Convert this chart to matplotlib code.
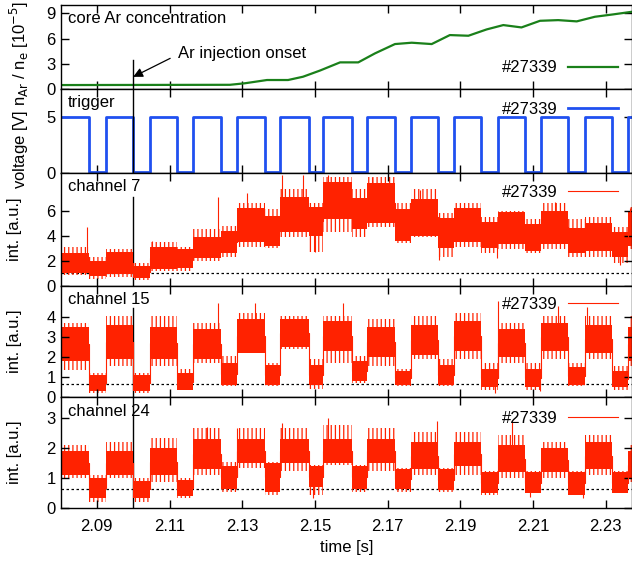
import numpy as np
import matplotlib
matplotlib.use("Agg")
import matplotlib.pyplot as plt

plt.rcParams['font.family'] = ['Liberation Sans', 'DejaVu Sans']
plt.rcParams['font.size'] = 12
plt.rcParams['hatch.linewidth'] = 0.9

# core Ar concentration (n_Ar / n_e in 1e-5)
ar_time = [2.080, 2.1266, 2.1307, 2.1368, 2.1426, 2.1467, 2.1514, 2.1569, 2.1619,
           2.1665, 2.1720, 2.1766, 2.1821, 2.1871, 2.1922, 2.1972, 2.2018, 2.2068,
           2.2119, 2.2169, 2.2220, 2.2270, 2.2320, 2.2371]
ar_conc = [0.47, 0.50, 0.68, 1.07, 1.07, 1.46, 2.20, 3.17, 3.17, 4.24, 5.35, 5.51,
           5.35, 6.42, 6.34, 7.09, 7.61, 7.33, 8.12, 8.20, 8.05, 8.60, 8.88, 9.19]

# trigger edges [s]
trig_rise = [2.0925, 2.1046, 2.1165, 2.1285, 2.1404, 2.1523, 2.1642, 2.1763,
             2.1883, 2.2004, 2.2123, 2.2244, 2.2362]
trig_fall = [2.0879, 2.1000, 2.1121, 2.1242, 2.1362, 2.1483, 2.1601, 2.1720,
             2.1839, 2.1958, 2.2078, 2.2197, 2.2316]

t_start, t_end = 2.080, 2.2372
onset = 2.10

# signal per trigger half-period (first one: trigger high)
# dense core of the noisy trace (lo / hi) and its outer extent (min / max)
ch7_lo = [1.0, 0.8, 0.9, 0.6, 1.3, 1.4, 2.2, 2.6, 3.5, 3.2, 4.3, 4.0, 5.3, 4.5,
          5.0, 3.6, 4.0, 3.0, 3.5, 3.0, 3.3, 2.8, 3.3, 2.6, 2.8, 2.3, 3.2]
ch7_hi = [2.6, 2.0, 2.7, 1.6, 3.1, 2.9, 3.9, 4.4, 6.2, 5.6, 7.1, 6.3, 8.3, 7.0,
          8.2, 6.1, 6.9, 5.4, 6.2, 5.1, 5.9, 4.9, 6.0, 4.6, 5.0, 4.3, 6.0]
ch7_min = [0.85, 0.5, 0.7, 0.45, 1.2, 1.2, 2.0, 2.3, 3.1, 3.0, 3.9, 2.7, 4.3, 3.9,
           4.7, 3.4, 3.9, 2.3, 3.1, 2.6, 2.9, 2.6, 2.9, 2.3, 2.3, 1.8, 2.9]
ch7_max = [3.1, 2.3, 2.9, 1.8, 3.5, 3.1, 4.5, 4.8, 6.6, 6.1, 7.7, 6.6, 8.7, 7.7,
           8.7, 6.6, 7.7, 5.8, 6.6, 5.5, 6.0, 5.3, 6.6, 5.3, 5.5, 4.7, 6.3]

ch15_lo = [1.8, 0.3, 1.9, 0.3, 1.9, 0.35, 1.9, 0.6, 2.2, 0.6, 2.5, 0.6, 2.3, 0.8,
           2.0, 0.6, 2.1, 0.6, 2.3, 0.5, 2.0, 0.5, 2.3, 0.6, 2.2, 0.5, 1.8]
ch15_hi = [3.5, 1.1, 3.6, 1.1, 3.5, 1.2, 3.4, 1.7, 3.9, 1.6, 3.9, 1.6, 3.8, 1.8,
           3.5, 1.3, 3.6, 1.6, 3.8, 1.4, 3.4, 1.4, 3.7, 1.5, 3.6, 1.3, 3.5]
ch15_min = [1.38, 0.2, 1.55, 0.2, 1.55, 0.38, 1.7, 0.55, 2.2, 0.55, 2.4, 0.4, 1.7, 0.7,
            1.55, 0.55, 1.9, 0.55, 1.9, 0.38, 1.7, 0.38, 1.9, 0.55, 1.9, 0.38, 1.55]
ch15_max = [3.72, 1.2, 4.05, 1.2, 4.05, 1.4, 3.7, 2.05, 4.2, 1.7, 4.05, 1.9, 4.05, 2.05,
            3.9, 1.4, 4.05, 1.9, 4.2, 1.7, 3.7, 1.7, 4.05, 1.7, 4.05, 1.55, 4.05]

ch24_lo = [1.1, 0.35, 1.1, 0.35, 1.1, 0.4, 1.3, 0.65, 1.5, 0.55, 1.5, 0.7, 1.5, 0.65,
           1.5, 0.65, 1.3, 0.6, 1.4, 0.5, 1.2, 0.5, 1.2, 0.45, 1.3, 0.5, 1.0]
ch24_hi = [1.9, 1.0, 1.9, 0.9, 2.0, 0.95, 2.3, 1.4, 2.3, 1.5, 2.3, 1.4, 2.3, 1.4,
           2.3, 1.3, 2.2, 1.3, 2.2, 1.2, 2.1, 1.2, 2.0, 1.2, 2.2, 1.2, 1.9]
ch24_min = [1.0, 0.21, 1.0, 0.21, 0.88, 0.32, 1.1, 0.55, 1.33, 0.43, 1.22, 0.43, 1.44, 0.55,
            1.22, 0.55, 1.1, 0.55, 1.1, 0.43, 1.0, 0.55, 1.0, 0.43, 1.1, 0.55, 0.88]
ch24_max = [2.1, 1.1, 2.2, 1.0, 2.33, 1.0, 2.66, 1.55, 2.66, 1.55, 2.66, 1.44, 2.77, 1.44,
            2.66, 1.33, 2.55, 1.33, 2.55, 1.22, 2.44, 1.22, 2.22, 1.22, 2.44, 1.22, 2.1]

# single spikes / dips sticking out of the band: (time, value)
ch7_spikes = [(2.0872, 4.7), (2.1051, 3.6), (2.1234, 7.1), (2.1312, 7.4), (2.1408, 8.85),
              (2.1468, 8.85), (2.1537, 8.85), (2.1656, 8.7), (2.1789, 7.66), (2.2160, 6.7),
              (2.2366, 6.2), (2.1500, 2.7), (2.1842, 2.05), (2.2000, 2.2), (2.2339, 1.66)]
ch15_spikes = [(2.1234, 4.7), (2.1335, 4.7), (2.1578, 4.7), (2.2004, 4.8), (2.2247, 4.5),
               (2.2169, 4.55), (2.1995, 0.2), (2.2119, 0.3)]
ch24_spikes = [(2.1537, 3.0), (2.1408, 2.83), (2.1202, 2.72), (2.1285, 2.66), (2.2041, 2.9),
               (2.1835, 2.9), (2.1495, 0.32), (2.2238, 0.32), (2.2091, 0.38)]

base7, base15, base24 = 1.05, 0.68, 0.63

green = '#1a801a'
blue = '#2050f0'
red = '#ff2200'

fig = plt.figure(figsize=(6.32, 5.61), dpi=100)
H = 561.0
panels_px = [(5, 89), (89, 173), (173, 285.7), (285.7, 397.3), (397.3, 508)]
left = 60.5 / 632
axes = []
for top, bot in panels_px:
    ax = fig.add_axes([left, 1 - bot / H, 1 - left, (bot - top) / H])
    axes.append(ax)

edges = sorted(trig_rise + trig_fall)
edges = [t_start] + [e for e in edges if t_start < e < t_end] + [t_end]


def stepped(vals):
    n = len(edges) - 1
    return np.array(list(vals[:n]) + [vals[n - 1]])


def band(ax, lo, hi, vmin, vmax, spikes, base, label):
    lo, hi, vmin, vmax = stepped(lo), stepped(hi), stepped(vmin), stepped(vmax)
    # sparse outer part of the noise: vertical hatching
    ax.fill_between(edges, vmin, vmax, step='post', facecolor='none',
                    edgecolor=red, hatch='||||', lw=0)
    ax.fill_between(edges, lo, hi, step='post', color=red, lw=0)
    mid = (lo + hi) / 2
    ax.step(edges, mid, where='post', color=red, lw=0.8, label=label)
    for t, v in spikes:
        i = np.searchsorted(edges, t) - 1
        ax.vlines(t, min(v, mid[i]), max(v, mid[i]), color=red, lw=0.8)
    ax.axhline(base, color='black', ls=(0, (2, 2)), lw=0.9, zorder=0)


# core Ar concentration
ax = axes[0]
ax.plot(ar_time, ar_conc, color=green, lw=1.6, label='#27339')
ax.set_ylim(0, 10)
ax.set_yticks([0, 3, 6, 9])
ax.axvline(onset, ymin=0, ymax=0.345, color='black', lw=1)
ax.annotate('Ar injection onset', xy=(onset, 1.45), xytext=(2.1123, 4.2),
            va='center', ha='left',
            arrowprops=dict(arrowstyle='-|>', color='black', lw=0.9, relpos=(0, 0.45),
                            shrinkA=4, shrinkB=0, mutation_scale=14))
ax.text(0.013, 0.845, 'core Ar concentration', transform=ax.transAxes, va='center')
ax.legend(loc='center right', bbox_to_anchor=(0.99, 0.25), frameon=False,
          markerfirst=False, handlelength=3.0, borderpad=0, handletextpad=0.6)

# trigger
ax = axes[1]
tt = [t_start]
vv = [5]
for f, r in zip(trig_fall, trig_rise):
    tt += [f, f, r, r]
    vv += [5, 0.05, 0.05, 5]
tt.append(t_end)
vv.append(5)
ax.plot(tt, vv, color=blue, lw=2, label='#27339')
ax.set_ylim(0, 7.55)
ax.set_yticks([0, 5])
ax.axvline(onset, color='black', lw=1)
ax.text(0.013, 0.845, 'trigger', transform=ax.transAxes, va='center')
ax.legend(loc='center right', bbox_to_anchor=(0.99, 0.76), frameon=False,
          markerfirst=False, handlelength=3.0, borderpad=0, handletextpad=0.6)

chans = [('channel 7', ch7_lo, ch7_hi, ch7_min, ch7_max, ch7_spikes, base7, 9.0,
          [0, 2, 4, 6], 0.79, 0.83),
         ('channel 15', ch15_lo, ch15_hi, ch15_min, ch15_max, ch15_spikes, base15, 5.58,
          [0, 1, 2, 3, 4], 0.8, 0.83),
         ('channel 24', ch24_lo, ch24_hi, ch24_min, ch24_max, ch24_spikes, base24, 3.7,
          [0, 1, 2, 3], 1.0, 0.81)]
for ax, (name, lo, hi, vmin, vmax, sp, base, ymax, yt, vtop, legy) in zip(axes[2:], chans):
    band(ax, lo, hi, vmin, vmax, sp, base, '#27339')
    ax.set_ylim(0, ymax)
    ax.set_yticks(yt)
    ax.axvline(onset, ymin=0, ymax=vtop, color='black', lw=1, zorder=0.5)
    ax.text(0.013, 0.876, name, transform=ax.transAxes, va='center')
    ax.set_ylabel('int. [a.u.]')
    ax.yaxis.set_label_coords(-0.067, 0.5)
    ax.legend(loc='center right', bbox_to_anchor=(0.99, legy), frameon=False,
              markerfirst=False, handlelength=3.0, borderpad=0, handletextpad=0.6)

xt = [2.09, 2.11, 2.13, 2.15, 2.17, 2.19, 2.21, 2.23]
for i, ax in enumerate(axes):
    ax.set_xlim(t_start, t_end)
    ax.set_xticks(xt)
    ax.tick_params(direction='in', length=6, width=1, top=True, right=True)
    for s in ax.spines.values():
        s.set_linewidth(1)
    if i < 4:
        ax.tick_params(labelbottom=False)
    else:
        ax.set_xticklabels(['%.2f' % x for x in xt])
        ax.tick_params(axis='x', pad=8)

axes[4].set_xlabel('time [s]', labelpad=4)
fig.text(0.03, 1 - 95 / H, r'voltage [V] n$_{\mathrm{Ar}}$ / n$_{\mathrm{e}}$ [10$^{-5}$]',
         rotation=90, ha='center', va='center')

fig.savefig('out.png', dpi=100)
